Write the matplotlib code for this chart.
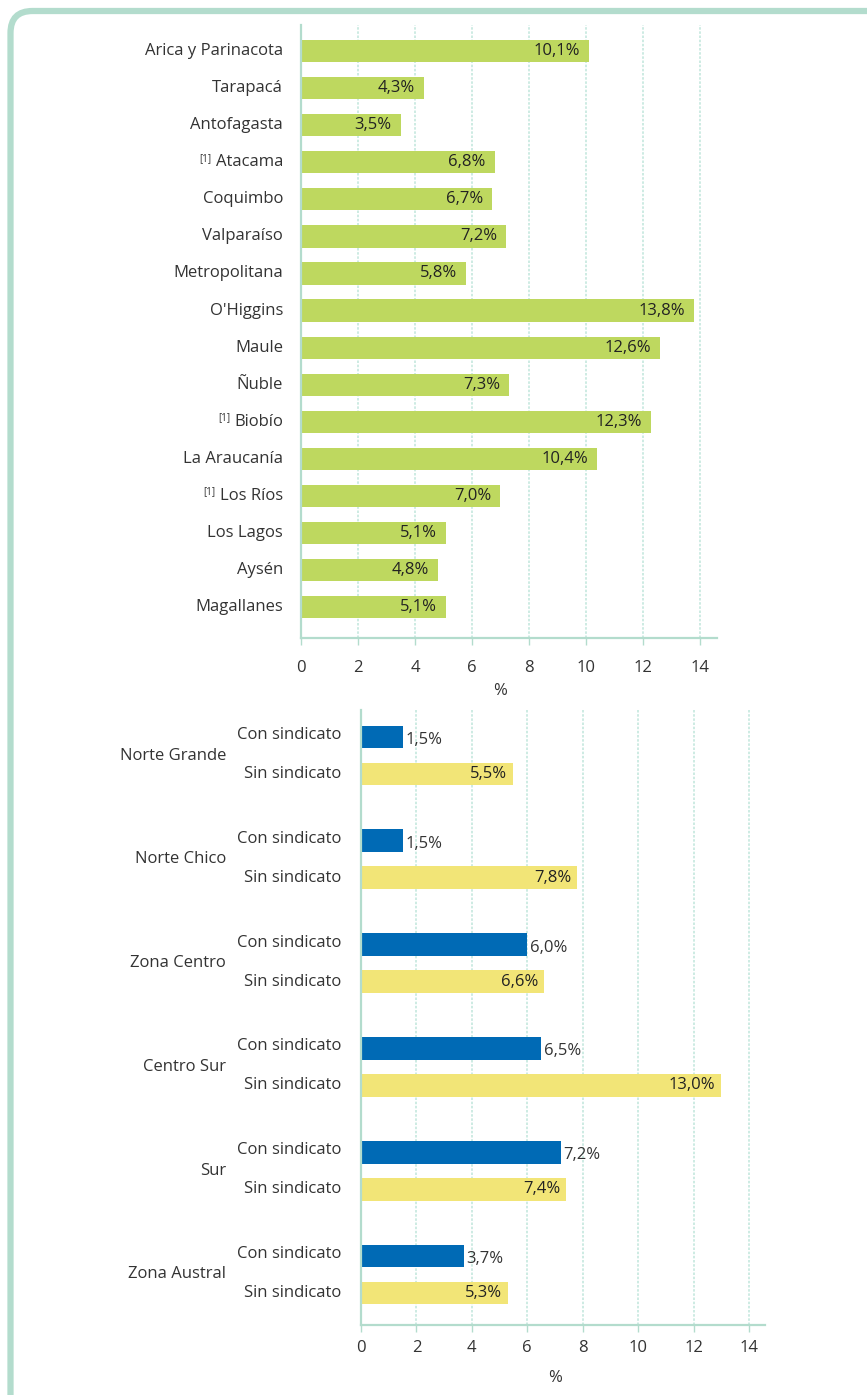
import matplotlib
matplotlib.use("Agg")
from matplotlib import pyplot as plt
from matplotlib.patches import FancyBboxPatch

plt.rcParams['font.family'] = ['Open Sans', 'DejaVu Sans']

# regiones
regiones = ['Arica y Parinacota', 'Tarapacá', 'Antofagasta', 'Atacama', 'Coquimbo',
            'Valparaíso', 'Metropolitana', "O'Higgins", 'Maule', 'Ñuble', 'Biobío',
            'La Araucanía', 'Los Ríos', 'Los Lagos', 'Aysén', 'Magallanes']
valores_region = [10.1, 4.3, 3.5, 6.8, 6.7, 7.2, 5.8, 13.8, 12.6, 7.3, 12.3, 10.4, 7.0, 5.1, 4.8, 5.1]
nota = ['Atacama', 'Biobío', 'Los Ríos']

# zonas
zonas = ['Norte Grande', 'Norte Chico', 'Zona Centro', 'Centro Sur', 'Sur', 'Zona Austral']
con_sindicato = [1.5, 1.5, 6.0, 6.5, 7.2, 3.7]
sin_sindicato = [5.5, 7.8, 6.6, 13.0, 7.4, 5.3]
ticks = [0, 2, 4, 6, 8, 10, 12, 14]

verde = '#bed85f'
azul = '#006ab5'
amarillo = '#f2e577'
marco = '#b3dccd'
texto = '#333333'
W, H = 867, 1395

fig = plt.figure(figsize=(W / 100, H / 100), dpi=100)

# marco redondeado
bg = fig.add_axes([0, 0, 1, 1])
bg.set_xlim(0, W)
bg.set_ylim(H, 0)
bg.axis('off')
bg.add_patch(FancyBboxPatch((10.5, 11), 880, 1410, boxstyle='round,pad=0,rounding_size=22',
                            fc='white', ec=marco, lw=4.5))


def estilo(ax, x0, pad, lpad):
    ax.set_facecolor('none')
    ax.set_xlim(0, x0)
    ax.set_xticks(ticks)
    ax.set_xticklabels([str(t) for t in ticks], fontsize=12, color=texto)
    ax.set_yticks([])
    for s in ['top', 'right']:
        ax.spines[s].set_visible(False)
    for s in ['left', 'bottom']:
        ax.spines[s].set_color(marco)
        ax.spines[s].set_linewidth(1.6)
    ax.tick_params(axis='x', length=5, color=marco, width=1, pad=pad)
    for t in ticks[1:]:
        ax.axvline(t, color='#c5e8de', lw=1.2, ls=(0, (1.5, 1)), zorder=0)
    ax.set_xlabel('%', fontsize=12, color=texto, labelpad=lpad)
    ax.xaxis.label.set_x(7 / x0)


# grafico 1
ax1 = fig.add_axes([301 / W, 1 - 638 / H, 416 / W, (638 - 25) / H])
ypos = list(range(len(regiones)))
ax1.barh(ypos, valores_region, height=0.6, color=verde, zorder=2)
ax1.set_ylim(15.83, -0.70)
estilo(ax1, 14.6, 11, 5)
for y, r, v in zip(ypos, regiones, valores_region):
    t = ax1.annotate(r, xy=(0, y), xytext=(-18, 0), textcoords='offset pixels',
                     ha='right', va='center', fontsize=12, color=texto)
    if r in nota:
        ax1.annotate('[1]', xy=(0, 0.75), xycoords=t, xytext=(-4, 0), textcoords='offset pixels',
                     ha='right', va='center', fontsize=7, color=texto)
    ax1.annotate(f'{v:.1f}%'.replace('.', ','), xy=(v, y), xytext=(-9, 0), textcoords='offset pixels',
                 ha='right', va='center', fontsize=12, color='#222222', zorder=3)

# grafico 2
ax2 = fig.add_axes([361 / W, 1 - 1325 / H, 404 / W, (1325 - 710) / H])
paso = 2.805
y_con = [g * paso for g in range(len(zonas))]
y_sin = [g * paso + 1 for g in range(len(zonas))]
ax2.barh(y_con, con_sindicato, height=0.62, color=azul, zorder=2)
ax2.barh(y_sin, sin_sindicato, height=0.62, color=amarillo, zorder=2)
ax2.set_ylim(15.89, -0.73)
estilo(ax2, 14.58, 6, 10)
for z, yc, ys, c, s in zip(zonas, y_con, y_sin, con_sindicato, sin_sindicato):
    ax2.annotate('Con sindicato', xy=(0, yc), xytext=(-20, 2), textcoords='offset pixels',
                 ha='right', va='center', fontsize=12, color=texto)
    ax2.annotate('Sin sindicato', xy=(0, ys), xytext=(-20, 0), textcoords='offset pixels',
                 ha='right', va='center', fontsize=12, color=texto)
    ax2.annotate(z, xy=(0, (yc + ys) / 2), xytext=(-135, 0), textcoords='offset pixels',
                 ha='right', va='center', fontsize=12, color=texto)
    ax2.annotate(f'{c:.1f}%'.replace('.', ','), xy=(c, yc), xytext=(3, -3), textcoords='offset pixels',
                 ha='left', va='center', fontsize=12, color=texto)
    ax2.annotate(f'{s:.1f}%'.replace('.', ','), xy=(s, ys), xytext=(-6, 0), textcoords='offset pixels',
                 ha='right', va='center', fontsize=12, color='#222222', zorder=3)

fig.savefig('out.png', dpi=100)
